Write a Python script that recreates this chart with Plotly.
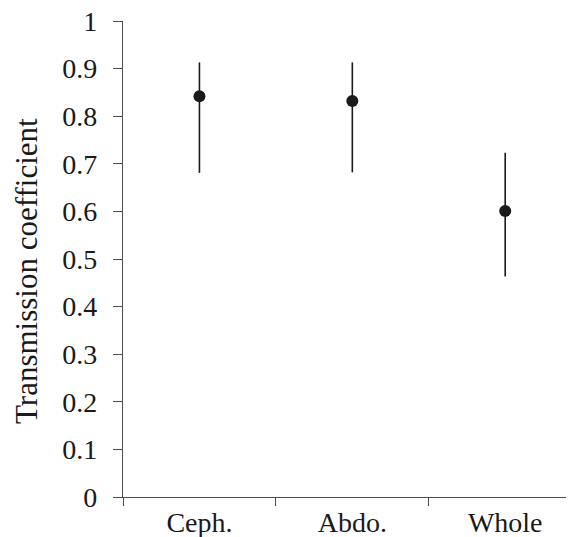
import plotly.graph_objects as go

categories = ["Ceph.", "Abdo.", "Whole"]
means = [0.842, 0.832, 0.601]
upper = [0.913, 0.913, 0.723]
lower = [0.681, 0.682, 0.463]
y_ticks = [0, 0.1, 0.2, 0.3, 0.4, 0.5, 0.6, 0.7, 0.8, 0.9, 1]
y_tick_labels = ["0", "0.1", "0.2", "0.3", "0.4", "0.5", "0.6", "0.7", "0.8", "0.9", "1"]

err_plus = [u - m for u, m in zip(upper, means)]
err_minus = [m - l for m, l in zip(means, lower)]

FONT = "Liberation Serif"
AX = "#4d4d4d"
INK = "#1a1a1a"

# page body has an 8px default margin; compensate so the plot lands where the reference has it
W, H = 566, 529
L, T = 123 - 8, 21 - 8
PLOT_W = W - L
PLOT_H = (497 - 8) - T

fig = go.Figure()
fig.add_trace(go.Scatter(
    x=categories, y=means, mode="markers",
    marker=dict(color=INK, size=12, symbol="circle"),
    error_y=dict(type="data", symmetric=False, array=err_plus, arrayminus=err_minus,
                 color=INK, thickness=1.6, width=0),
    showlegend=False,
))

fig.update_layout(
    width=W, height=H,
    margin=dict(l=L, r=0, t=T, b=H - T - PLOT_H, autoexpand=False),
    paper_bgcolor="white", plot_bgcolor="white",
    font=dict(family=FONT, color=INK),
    xaxis=dict(
        type="category", range=[-0.5, 2.45], tickson="boundaries",
        automargin=False, ticklabeloverflow="allow",
        showline=True, linecolor=AX, linewidth=1.4,
        ticks="outside", ticklen=8, tickwidth=1.4, tickcolor=AX,
        tickfont=dict(family=FONT, size=28, color=INK),
        ticklabelstandoff=0,
        showgrid=False, zeroline=False,
    ),
    yaxis=dict(
        range=[0, 1], tickvals=y_ticks, ticktext=y_tick_labels,
        automargin=False, ticklabeloverflow="allow",
        showline=True, linecolor=AX, linewidth=1.4,
        ticks="outside", ticklen=9, tickwidth=1.4, tickcolor=AX,
        tickfont=dict(family=FONT, size=28, color=INK),
        ticklabelstandoff=10,
        showgrid=False, zeroline=False,
    ),
    annotations=[dict(
        text="Transmission coefficient", textangle=-90,
        xref="paper", yref="paper", x=(26 - 123) / PLOT_W, y=(497 - 271) / PLOT_H,
        xanchor="center", yanchor="middle", showarrow=False,
        font=dict(family=FONT, size=31, color=INK),
    )],
)

fig.write_html("out.html")
